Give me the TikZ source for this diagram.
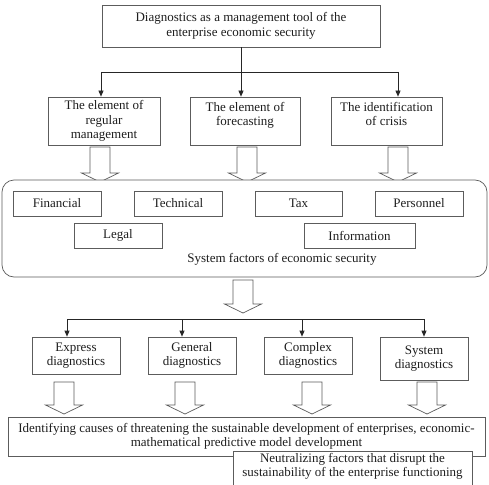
\documentclass[tikz,border=0pt]{standalone}
\usepackage{fontspec}
\setmainfont{Liberation Serif}
\usetikzlibrary{arrows.meta,calc}
\definecolor{frame}{HTML}{5C5C5C}
\definecolor{txt}{HTML}{1E1E1E}
% hollow block arrow: centre x, top y, tip y
\newcommand\blockarrow[3]{%
  \draw[hollow] (#1-10,#2) -- (#1-10,#3-9) -- (#1-18.5,#3-9) -- (#1,#3)
    -- (#1+18.5,#3-9) -- (#1+10,#3-9) -- (#1+10,#2) -- cycle;}
\begin{document}
\begin{tikzpicture}[x=1pt,y=-1pt,
  every node/.style={font=\fontsize{13}{14.5}\selectfont, text=txt},
  box/.style={draw=frame, line width=0.7pt, fill=white, align=center, inner sep=0pt},
  conn/.style={draw=black!85, line width=0.7pt},
  arr/.style={conn, -{Triangle[length=6pt,width=5pt]}},
  hollow/.style={draw=frame, line width=0.7pt, fill=white, line join=miter}]
\useasboundingbox (0,0) rectangle (489,484);

% heading
\node[box, minimum width=278, minimum height=42] (top) at (241,26)
  {Diagnostics as a management tool of the\\enterprise economic security};

% three elements
\node[box, minimum width=112, minimum height=48] (e1) at (104,121)
  {The element of\\regular\\management};
\node[box, minimum width=110, minimum height=48] (e2) at (245,121)
  {The element of\\forecasting\\\mbox{}};
\node[box, minimum width=111, minimum height=48] (e3) at (386.5,121)
  {The identification\\of crisis\\\mbox{}};

\coordinate (jl) at (101,72);
\coordinate (jr) at (398,72);
\draw[conn] (jl) -- (jr);
\draw[arr] (top.south) -- (top.south |- e2.north);
\draw[arr] (jl) -- (jl |- e1.north);
\draw[arr] (jr) -- (jr |- e3.north);

\blockarrow{100}{147}{182}
\blockarrow{247}{147}{182}
\blockarrow{398}{147}{182}

% system factors
\node[box, rounded corners=12pt, minimum width=485, minimum height=97] (sys) at (244.5,228.5) {};
\node[box, minimum width=88, minimum height=25] (fin) at (57,203.5) {Financial};
\node[box, minimum width=88, minimum height=25] (tech) at (178,203.5) {Technical};
\node[box, minimum width=87, minimum height=25] (tax) at (298.5,203.5) {Tax};
\node[box, minimum width=88, minimum height=25] (pers) at (419,203.5) {Personnel};
\node[box, minimum width=88, minimum height=25] (legal) at (118,235.5) {Legal};
\node[box, minimum width=111, minimum height=25] (info) at (359.5,235.5) {Information};
\node (syslabel) at (282,259) {System factors of economic security};

\blockarrow{243}{280}{313}

% kinds of diagnostics
\node[box, minimum width=88, minimum height=37] (ex) at (76,355.5) {Express\\diagnostics};
\node[box, minimum width=88, minimum height=37] (gen) at (192,355.5) {General\\diagnostics};
\node[box, minimum width=88, minimum height=37] (comp) at (308,355.5) {Complex\\diagnostics};
\node[box, minimum width=88, minimum height=43] (syst) at (424,358.5) {System\\diagnostics};

\coordinate (k1) at (67,319);
\coordinate (k2) at (182,319);
\coordinate (k3) at (302,319);
\coordinate (k4) at (424,319);
\draw[conn] (k1) -- (k4);
\draw[arr] (k1) -- (k1 |- ex.north);
\draw[arr] (k2) -- (k2 |- gen.north);
\draw[arr] (k3) -- (k3 |- comp.north);
\draw[arr] (k4) -- (k4 |- syst.north);

\blockarrow{64}{382}{414}
\blockarrow{185}{382}{414}
\blockarrow{312}{382}{414}
\blockarrow{427}{382}{414}

% outcomes
\node[box, minimum width=477, minimum height=39] (out1) at (246.5,436.5)
  {Identifying causes of threatening the sustainable development of enterprises, economic-\\mathematical predictive model development};
\node[box, minimum width=239, minimum height=40] (out2) at (352.5,471) {};
\node[anchor=north, align=center, inner sep=0pt] (out2text) at ($(out2.north)+(0,2)$)
  {Neutralizing factors that disrupt the\\sustainability of the enterprise functioning};
\end{tikzpicture}
\end{document}
